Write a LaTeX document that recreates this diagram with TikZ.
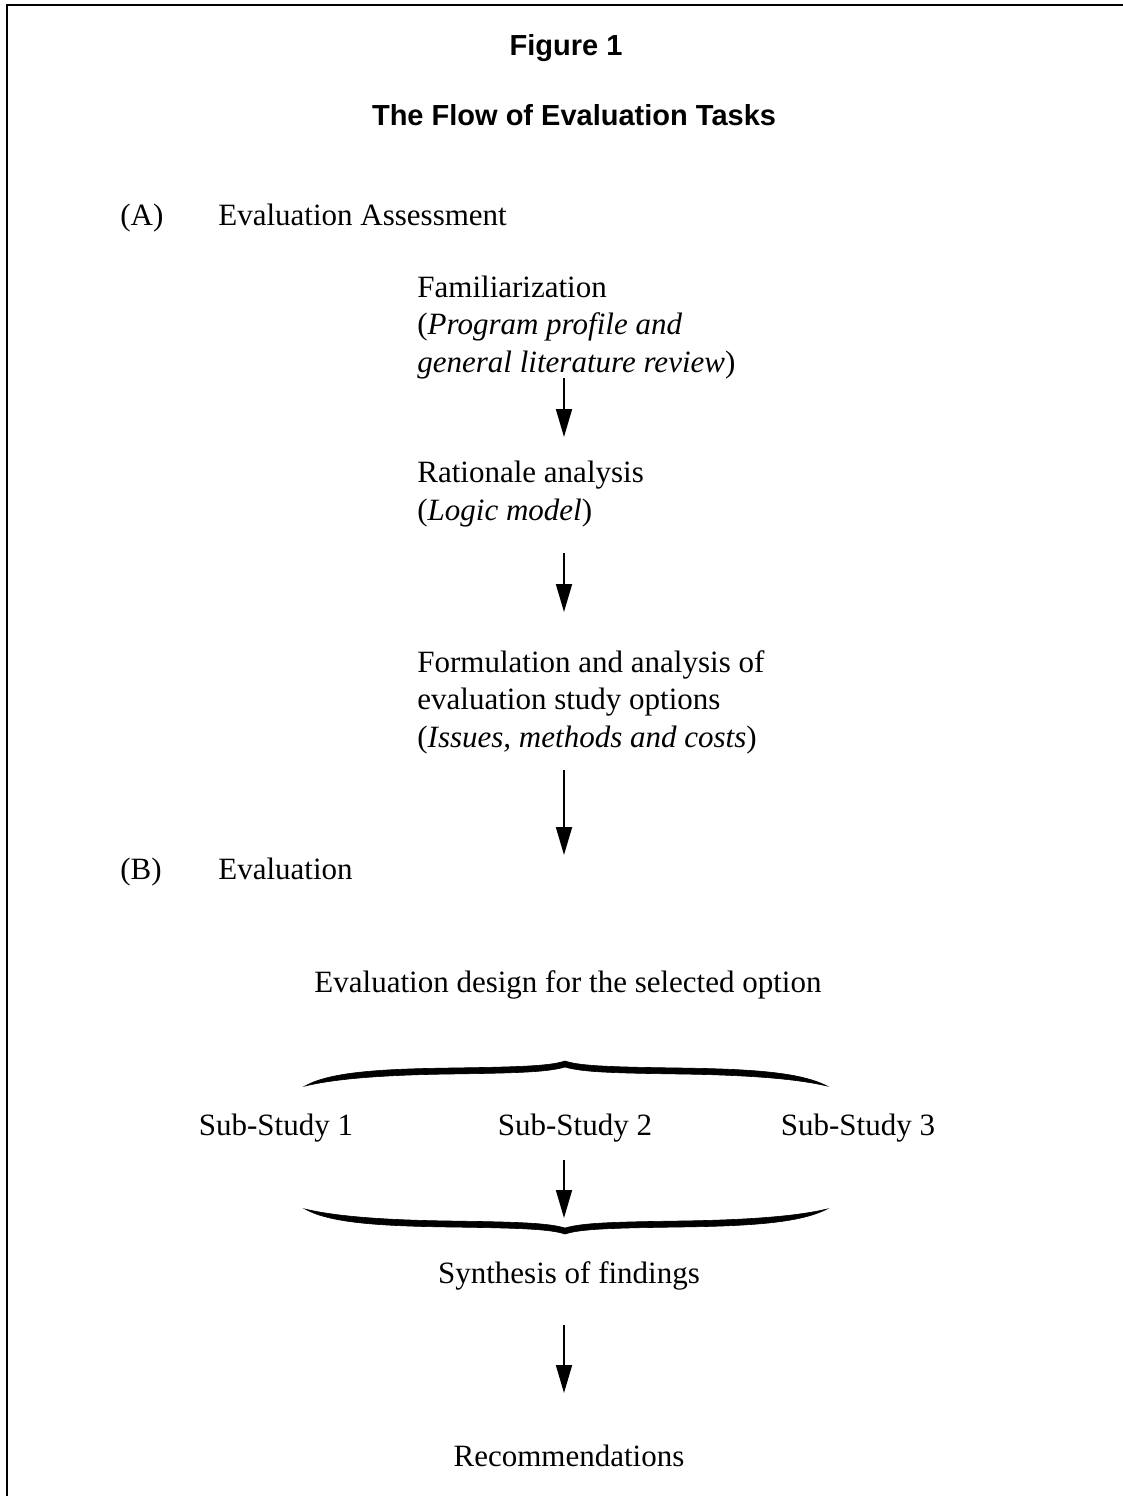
\documentclass[tikz,border=0pt]{standalone}
\usepackage{fontspec}
\setmainfont{Liberation Serif}
\newfontfamily\titlefont{Liberation Sans}
\usetikzlibrary{arrows.meta}
\tikzset{
  body/.style={inner sep=0pt, font=\fontsize{15.5}{18.6}\selectfont},
  lefttext/.style={body, anchor=base west, align=left},
  midtext/.style={body, anchor=base},
  heading/.style={inner sep=0pt, anchor=base, font=\titlefont\bfseries\fontsize{14.5}{17}\selectfont},
  arr/.style={line width=0.9pt, -{Triangle[length=14pt,width=8pt]}},
  frame/.style={line width=1pt},
  bracefill/.style={fill=black, draw=black, line width=0.3pt}
}
\begin{document}
\begin{tikzpicture}[x=0.5pt,y=-0.5pt]
\useasboundingbox (0,0) rectangle (1123,1496);
% frame (left and top only)
\draw[frame] (6.5,1496) -- (6.5,5) -- (1123,5);

% titles
\node[heading] (fig) at (566,55) {Figure 1};
\node[heading] (ttl) at (574,125) {The Flow of Evaluation Tasks};

% section A
\node[lefttext] (lA) at (120,225) {(A)};
\node[lefttext] (tA) at (218,225) {Evaluation Assessment};

% multi-line nodes: base anchor is the baseline of the last line
\node[lefttext] (fam) at (417,372) {Familiarization\\(\textit{Program profile and}\\\textit{general literature review})};
\node[lefttext] (rat) at (417,520) {Rationale analysis\\(\textit{Logic model})};
\node[lefttext] (frm) at (417,747) {Formulation and analysis of\\evaluation study options\\(\textit{Issues, methods and costs})};

% section B
\node[lefttext] (lB) at (120,879) {(B)};
\node[lefttext] (tB) at (218,879) {Evaluation};

\node[midtext] (des) at (568,992) {Evaluation design for the selected option};

\node[midtext] (s1) at (276,1135) {Sub-Study 1};
\node[midtext] (s2) at (575,1135) {Sub-Study 2};
\node[midtext] (s3) at (858,1135) {Sub-Study 3};

\node[midtext] (syn) at (569,1283) {Synthesis of findings};
\node[midtext] (rec) at (569,1466) {Recommendations};

% arrow end points
\coordinate (a1s) at (564,378);  \coordinate (a1e) at (564,437);
\coordinate (a2s) at (564,553);  \coordinate (a2e) at (564,612);
\coordinate (a3s) at (564,770);  \coordinate (a3e) at (564,855);
\coordinate (a4s) at (564,1160); \coordinate (a4e) at (564,1218);
\coordinate (a5s) at (564,1325); \coordinate (a5e) at (564,1393);

\draw[arr] (a1s) -- (a1e);
\draw[arr] (a2s) -- (a2e);
\draw[arr] (a3s) -- (a3e);
\draw[arr] (a4s) -- (a4e);
\draw[arr] (a5s) -- (a5e);

% top brace (tip up)
\path[bracefill] (305,1086) .. controls (330,1072) and (380,1069) .. (450,1068)
  .. controls (520,1067) and (550,1066) .. (565,1061)
  .. controls (580,1066) and (610,1067) .. (680,1068)
  .. controls (750,1069) and (800,1072) .. (827,1086)
  .. controls (798,1079) and (750,1075) .. (680,1074)
  .. controls (610,1073) and (582,1072) .. (565,1067)
  .. controls (548,1072) and (520,1073) .. (450,1074)
  .. controls (380,1075) and (334,1079) .. (305,1086) -- cycle;

% bottom brace (tip down)
\path[bracefill] (305,1209) .. controls (334,1216) and (380,1220) .. (450,1221)
  .. controls (520,1222) and (548,1223) .. (565,1228)
  .. controls (582,1223) and (610,1222) .. (680,1221)
  .. controls (750,1220) and (798,1216) .. (827,1209)
  .. controls (800,1223) and (750,1226) .. (680,1227)
  .. controls (610,1228) and (580,1229) .. (565,1234)
  .. controls (550,1229) and (520,1228) .. (450,1227)
  .. controls (380,1226) and (330,1223) .. (305,1209) -- cycle;
\end{tikzpicture}
\end{document}
